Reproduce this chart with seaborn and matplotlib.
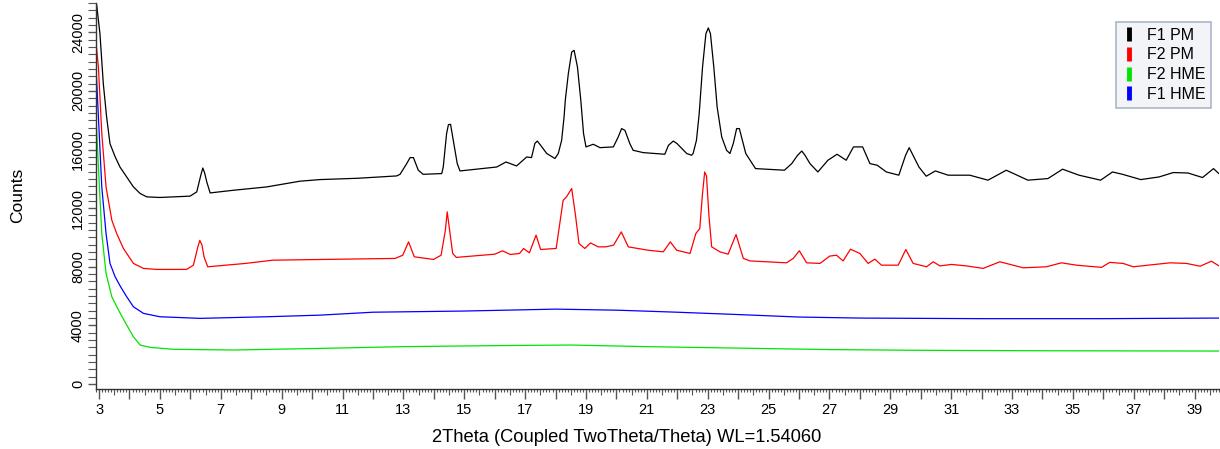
import numpy as np
import pandas as pd
import matplotlib
matplotlib.use("Agg")
import matplotlib.pyplot as plt
from matplotlib.ticker import MultipleLocator, FuncFormatter
from matplotlib.lines import Line2D
import seaborn as sns

# Powder XRD patterns: 2-theta (degrees) and intensity (thousands of counts)
f1_pm_2theta = [2.92, 3.03, 3.14, 3.25, 3.36, 3.53, 3.69, 3.91, 4.13, 4.35, 4.57, 5.00, 5.99, 6.21,
                6.35, 6.41, 6.47, 6.54, 6.65, 7.41, 8.51, 9.60, 10.26, 11.50, 12.78, 12.89, 13.11,
                13.22, 13.33, 13.49, 13.65, 14.26, 14.31, 14.42, 14.48, 14.55, 14.64, 14.77, 14.86,
                16.07, 16.37, 16.72, 17.05, 17.21, 17.32, 17.40, 17.51, 17.71, 17.98, 18.09, 18.20,
                18.28, 18.32, 18.42, 18.53, 18.61, 18.72, 18.83, 18.92, 19.00, 19.24, 19.46, 19.90,
                20.06, 20.17, 20.28, 20.44, 20.55, 20.88, 21.59, 21.71, 21.87, 21.99, 22.31, 22.47,
                22.52, 22.63, 22.72, 22.83, 22.94, 23.02, 23.09, 23.20, 23.31, 23.46, 23.62, 23.73,
                23.84, 23.95, 24.04, 24.14, 24.25, 24.57, 25.52, 25.76, 25.95, 26.09, 26.20, 26.36,
                26.62, 26.95, 27.25, 27.55, 27.79, 28.09, 28.33, 28.57, 28.87, 29.28, 29.50, 29.62,
                29.75, 29.94, 30.18, 30.48, 30.90, 31.61, 32.21, 32.81, 33.52, 34.18, 34.66, 35.20,
                35.91, 36.30, 36.63, 37.23, 37.83, 38.30, 38.78, 39.26, 39.62, 39.80]
f1_pm_kcounts = [25.9, 23.9, 20.5, 18.2, 16.4, 15.5, 14.8, 14.13, 13.45, 13.0, 12.77, 12.73, 12.82, 13.11,
                 14.3, 14.74, 14.4, 13.79, 13.04, 13.22, 13.45, 13.84, 13.95, 14.04, 14.20, 14.31, 15.04,
                 15.45, 15.45, 14.59, 14.31, 14.36, 14.81, 17.09, 17.70, 17.72, 16.63, 15.04, 14.54,
                 14.81, 15.15, 14.88, 15.49, 15.45, 16.41, 16.58, 16.29, 15.73, 15.39, 15.73, 16.63,
                 18.22, 19.36, 21.18, 22.65, 22.77, 21.63, 19.36, 17.09, 16.18, 16.36, 16.13, 16.18,
                 16.86, 17.43, 17.31, 16.41, 15.95, 15.79, 15.68, 16.29, 16.58, 16.41, 15.73, 15.61,
                 15.73, 16.63, 18.45, 21.63, 23.90, 24.30, 23.90, 21.63, 18.90, 16.86, 15.95, 15.73,
                 16.41, 17.43, 17.43, 16.63, 15.73, 14.70, 14.59, 15.04, 15.60, 15.90, 15.60, 15.04,
                 14.47, 15.27, 15.68, 15.27, 16.18, 16.18, 15.04, 14.93, 14.47, 14.25, 15.60, 16.13,
                 15.60, 14.81, 14.18, 14.54, 14.25, 14.25, 13.91, 14.59, 13.91, 14.02, 14.66, 14.25,
                 13.91, 14.47, 14.31, 13.95, 14.13, 14.43, 14.40, 14.09, 14.70, 14.35]

f2_pm_2theta = [2.90, 2.98, 3.09, 3.23, 3.42, 3.58, 3.80, 4.13, 4.46, 4.89, 5.88, 6.10, 6.24, 6.31,
                6.38, 6.45, 6.57, 7.82, 8.70, 10.34, 12.73, 12.98, 13.17, 13.36, 13.99, 14.24, 14.38,
                14.44, 14.50, 14.62, 14.74, 16.00, 16.26, 16.51, 16.82, 16.95, 17.14, 17.36, 17.51,
                18.02, 18.25, 18.36, 18.53, 18.65, 18.77, 18.96, 19.15, 19.40, 19.65, 19.91, 20.16,
                20.39, 21.04, 21.54, 21.77, 21.98, 22.42, 22.61, 22.74, 22.82, 22.90, 22.96, 23.04,
                23.13, 23.40, 23.67, 23.93, 24.17, 24.39, 25.59, 25.81, 26.01, 26.25, 26.69, 27.01,
                27.23, 27.45, 27.69, 28.00, 28.27, 28.49, 28.71, 29.26, 29.51, 29.75, 30.19, 30.41,
                30.63, 31.01, 31.50, 32.05, 32.60, 33.37, 34.13, 34.62, 35.12, 35.94, 36.21, 36.65,
                36.98, 38.19, 38.73, 39.18, 39.55, 39.80]
f2_pm_kcounts = [23.3, 21.6, 17.1, 13.45, 11.18, 10.27, 9.25, 8.23, 7.89, 7.82, 7.82, 8.11, 9.3, 9.80,
                 9.5, 8.68, 8.0, 8.23, 8.45, 8.50, 8.57, 8.79, 9.70, 8.68, 8.50, 8.79, 10.5,
                 11.75, 10.8, 8.91, 8.64, 8.86, 9.09, 8.84, 8.91, 9.25, 8.95, 10.16, 9.18,
                 9.25, 12.54, 12.77, 13.34, 11.6, 9.59, 9.25, 9.63, 9.36, 9.36, 9.48, 10.38,
                 9.36, 9.13, 9.02, 9.70, 9.13, 8.91, 10.27, 10.61, 12.8, 14.47, 14.2, 11.5,
                 9.36, 9.02, 8.86, 10.20, 8.57, 8.40, 8.27, 8.57, 9.09, 8.27, 8.23, 8.73,
                 8.79, 8.40, 9.20, 8.91, 8.23, 8.52, 8.11, 8.11, 9.18, 8.23, 8.0, 8.34,
                 8.06, 8.16, 8.06, 7.89, 8.34, 7.93, 8.0, 8.27, 8.11, 7.96, 8.30, 8.23,
                 8.0, 8.27, 8.23, 8.04, 8.38, 8.06]

f1_hme_2theta = [2.90, 2.98, 3.09, 3.23, 3.36, 3.53, 3.71, 3.91, 4.13, 4.46, 5.00, 6.32, 8.51, 10.26,
                 12.0, 15.0, 18.0, 20.0, 22.0, 24.0, 26.0, 28.0, 32.0, 36.0, 39.8]
f1_hme_kcounts = [21.6, 18.2, 13.45, 10.27, 8.23, 7.31, 6.63, 5.95, 5.27, 4.82, 4.59, 4.48, 4.59, 4.70,
                  4.90, 4.98, 5.11, 5.04, 4.90, 4.74, 4.57, 4.50, 4.46, 4.46, 4.50]

f2_hme_2theta = [2.90, 2.98, 3.09, 3.23, 3.42, 3.64, 3.91, 4.13, 4.35, 4.68, 5.44, 7.41, 10.26, 13.0,
                 16.0, 18.5, 21.0, 24.0, 27.0, 30.0, 34.0, 39.8]
f2_hme_kcounts = [18.2, 14.8, 10.27, 7.55, 5.95, 5.04, 4.02, 3.22, 2.66, 2.50, 2.37, 2.32, 2.43, 2.55,
                  2.62, 2.66, 2.55, 2.45, 2.35, 2.30, 2.27, 2.25]

series_names = ["F1 PM", "F2 PM", "F2 HME", "F1 HME"]
series_colors = ["#000000", "#ff0000", "#00e400", "#0000ff"]

frames = []
for name, xs, ys in [("F1 PM", f1_pm_2theta, f1_pm_kcounts),
                     ("F2 PM", f2_pm_2theta, f2_pm_kcounts),
                     ("F2 HME", f2_hme_2theta, f2_hme_kcounts),
                     ("F1 HME", f1_hme_2theta, f1_hme_kcounts)]:
    frames.append(pd.DataFrame({"two_theta": xs,
                                "counts": np.asarray(ys) * 1000.0,
                                "sample": name}))
data = pd.concat(frames, ignore_index=True)

sns.set_theme(style="white")
plt.rcParams["font.family"] = ["Liberation Sans", "DejaVu Sans"]

W, H = 1220, 449
fig = plt.figure(figsize=(W / 100, H / 100), dpi=100)
ax = fig.add_axes([96 / W, 1 - 389 / H, (1219 - 96) / W, (389 - 3) / H])

for name, color in zip(series_names[::-1], series_colors[::-1]):
    sub = data[data["sample"] == name]
    sns.lineplot(data=sub, x="two_theta", y="counts", color=color, linewidth=0.9,
                 ax=ax, legend=False, estimator=None, sort=True)

ax.set_xlim(2.9, 39.8)
ax.set_ylim(-340, 26000)
ax.set_xlabel("")
ax.set_ylabel("")

for side in ("top", "right"):
    ax.spines[side].set_visible(False)
for side in ("left", "bottom"):
    ax.spines[side].set_color("#333333")
    ax.spines[side].set_linewidth(1.0)

tick_col = "#555555"
ax.xaxis.set_major_locator(MultipleLocator(1))
ax.xaxis.set_minor_locator(MultipleLocator(0.1))
ax.xaxis.set_major_formatter(FuncFormatter(
    lambda v, p: f"{int(round(v))}" if int(round(v)) % 2 == 1 else ""))
ax.yaxis.set_major_locator(MultipleLocator(4000))
ax.yaxis.set_minor_locator(MultipleLocator(500))
ax.yaxis.set_major_formatter(FuncFormatter(lambda v, p: f"{int(round(v))}"))

ax.tick_params(axis="x", which="major", direction="out", length=7, width=1,
               color=tick_col, labelcolor="black", labelsize=10.5, pad=3, bottom=True)
ax.tick_params(axis="x", which="minor", direction="out", length=2.5, width=0.8,
               color=tick_col, bottom=True)
ax.tick_params(axis="y", which="major", direction="out", length=6, width=1,
               color=tick_col, labelcolor="black", labelsize=10.5, pad=2, left=True,
               labelrotation=90)
ax.tick_params(axis="y", which="minor", direction="out", length=6, width=0.8,
               color=tick_col, left=True)
for lbl in ax.get_yticklabels():
    lbl.set_va("center")

# half-degree ticks of intermediate length
mid = ax.secondary_xaxis("bottom")
mid.set_xticks(np.arange(3.5, 40, 1.0))
mid.tick_params(axis="x", direction="out", length=4.5, width=0.8, color=tick_col,
                labelbottom=False)
mid.spines["bottom"].set_visible(False)

fig.text(18 / W, 1 - 195 / H, "Counts", rotation=90, ha="center", va="center",
         fontsize=12.5, color="black")
fig.text(627 / W, 1 - 437 / H, "2Theta (Coupled TwoTheta/Theta) WL=1.54060",
         ha="center", va="center", fontsize=13.2, color="black")

handles = [Line2D([], [], color=c, marker="|", linestyle="none", markersize=10,
                  markeredgewidth=3.5) for c in series_colors]
leg = ax.legend(handles, series_names, loc="upper left",
                bbox_to_anchor=(1116 / W, 1 - 22 / H), bbox_transform=fig.transFigure,
                borderaxespad=0, frameon=True, fancybox=False, framealpha=1,
                facecolor="#f2f4f8", edgecolor="#a9b6c9", fontsize=11.5,
                handlelength=0.9, handletextpad=0.7, labelspacing=0.3, borderpad=0.35)
leg.get_frame().set_linewidth(1.2)
for txt in leg.get_texts():
    txt.set_color("black")

fig.savefig("out.png", dpi=100)
